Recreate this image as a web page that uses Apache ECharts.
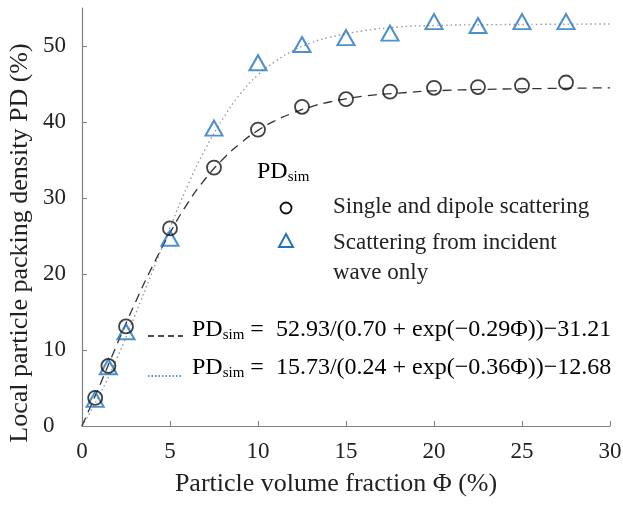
<!DOCTYPE html>
<html>
<head>
<meta charset="utf-8">
<script src="https://cdn.jsdelivr.net/npm/echarts@6/dist/echarts.min.js"></script>
<style>html,body{margin:0;padding:0;background:#fff}#c{width:623px;height:506px}</style>
</head>
<body>
<div id="c"></div>
<script>
// Simulated data (x = particle volume fraction %, y = packing density %)
var phi = [0.75, 1.5, 2.5, 5, 7.5, 10, 12.5, 15, 17.5, 20, 22.5, 25, 27.5];
var pdDipole = [3.7, 7.9, 13.1, 26.0, 34.0, 39.0, 42.0, 43.0, 44.0, 44.5, 44.6, 44.8, 45.2];
var pdIncident = [3.5, 7.8, 12.4, 24.7, 39.2, 47.8, 50.2, 51.1, 51.7, 53.2, 52.7, 53.2, 53.2];
// Fitted curves
var fitX = [0, 1, 2, 3, 4, 5, 6, 7, 8, 9, 10, 11, 12, 13, 14, 16, 18, 20, 23, 26, 30];
var fitDipole = [0, 5.3, 10.8, 16.1, 21.0, 25.4, 29.3, 32.5, 35.1, 37.2, 38.9, 40.2, 41.2, 42.0, 42.6, 43.4, 43.8, 44.1, 44.3, 44.4, 44.5];
var fitIncident = [0, 4.1, 9.0, 14.5, 20.3, 26.1, 31.6, 36.4, 40.4, 43.7, 46.2, 48.0, 49.4, 50.4, 51.1, 52.0, 52.5, 52.7, 52.8, 52.85, 52.9];
var yTicks = [0, 10, 20, 30, 40, 50];

var FONT = 'Liberation Serif';
var FS = 23;
var TFS = 26;
var BLUE = '#1f74c0';
function zip(a, b) { return a.map(function (v, i) { return [v, b[i]]; }); }

var chart = echarts.init(document.getElementById('c'));
var eqRich = {
  a: { fontFamily: FONT, fontSize: 24, color: '#222' },
  s: { fontFamily: FONT, fontSize: 15, color: '#222', padding: [10, 0, 0, 0] }
};
var tickRich = { t: { fontFamily: FONT, fontSize: FS, color: '#222' } };
chart.setOption({
  animation: false,
  textStyle: { fontFamily: FONT },
  grid: { left: 82, right: 13, top: 8, bottom: 80, containLabel: false, outerBoundsMode: 'none' },
  xAxis: {
    type: 'value', min: 0, max: 30, interval: 5,
    name: 'Particle volume fraction Φ (%)', nameLocation: 'middle', nameGap: 45,
    nameTextStyle: { fontFamily: FONT, fontSize: TFS, color: '#222', padding: [0, 20, 0, 0] },
    axisLine: { lineStyle: { color: '#808080', width: 1.2 } },
    axisTick: { inside: true, length: 5, lineStyle: { color: '#808080' } },
    axisLabel: { fontFamily: FONT, fontSize: FS, color: '#222', margin: 14, formatter: '{t|{value}}', rich: tickRich },
    splitLine: { show: false }
  },
  yAxis: {
    type: 'value', min: 0, max: 55, interval: 10,
    axisLine: { show: true, lineStyle: { color: '#808080', width: 1.2 } },
    axisTick: { show: true, inside: true, length: 5, lineStyle: { color: '#808080' }, customValues: yTicks },
    axisLabel: { fontFamily: FONT, fontSize: FS, color: '#222', margin: 39, align: 'left', showMaxLabel: false, formatter: '{t|{value}}', rich: tickRich },
    splitLine: { show: false }
  },
  series: [
    { type: 'line', data: zip(fitX, fitIncident), smooth: true, showSymbol: false, symbol: 'none',
      lineStyle: { color: '#a096a6', width: 1.4, type: [1.5, 3] }, z: 1 },
    { type: 'line', data: zip(fitX, fitDipole), smooth: true, showSymbol: false, symbol: 'none',
      lineStyle: { color: '#333', width: 1.3, type: [9, 6] }, z: 1 },
    { type: 'scatter', data: zip(phi, pdIncident), symbol: 'triangle', symbolSize: [17, 15],
      itemStyle: { color: 'rgba(0,0,0,0)', borderColor: BLUE, borderWidth: 2 }, z: 3 },
    { type: 'scatter', data: zip(phi, pdDipole), symbol: 'circle', symbolSize: 14,
      itemStyle: { color: 'rgba(0,0,0,0)', borderColor: '#111', borderWidth: 1.8 }, z: 4 }
  ],
  graphic: [
    { type: 'text', x: 20, y: 243, rotation: Math.PI / 2,
      style: { text: 'Local particle packing density PD (%)', fontFamily: FONT, fontSize: TFS, fill: '#222', align: 'center', verticalAlign: 'middle' } },
    { type: 'text', left: 257, top: 160, style: { rich: eqRich, text: '{a|PD}{s|sim}' } },
    { type: 'circle', shape: { cx: 286, cy: 208, r: 5.5 }, style: { fill: 'none', stroke: '#111', lineWidth: 1.8 } },
    { type: 'text', left: 333, top: 195, style: { text: 'Single and dipole scattering', fontFamily: FONT, fontSize: FS, fill: '#222' } },
    { type: 'polygon', shape: { points: [[286, 234], [293, 247], [279, 247]] }, style: { fill: 'none', stroke: BLUE, lineWidth: 2 } },
    { type: 'text', left: 333, top: 228, style: { text: 'Scattering from incident\nwave only', fontFamily: FONT, fontSize: FS, lineHeight: 30, fill: '#222' } },
    { type: 'line', shape: { x1: 148, y1: 336, x2: 183, y2: 336 }, style: { stroke: '#111', lineWidth: 1.6, lineDash: [6, 4] } },
    { type: 'text', left: 192, top: 318, style: { rich: eqRich, text: '{a|PD}{s|sim}{a| =  52.93/(0.70 + exp(−0.29Φ))−31.21}' } },
    { type: 'line', shape: { x1: 148, y1: 376, x2: 183, y2: 376 }, style: { stroke: BLUE, lineWidth: 1.4, lineDash: [1.5, 2] } },
    { type: 'text', left: 192, top: 356, style: { rich: eqRich, text: '{a|PD}{s|sim}{a| =  15.73/(0.24 + exp(−0.36Φ))−12.68}' } }
  ]
});
</script>
</body>
</html>
